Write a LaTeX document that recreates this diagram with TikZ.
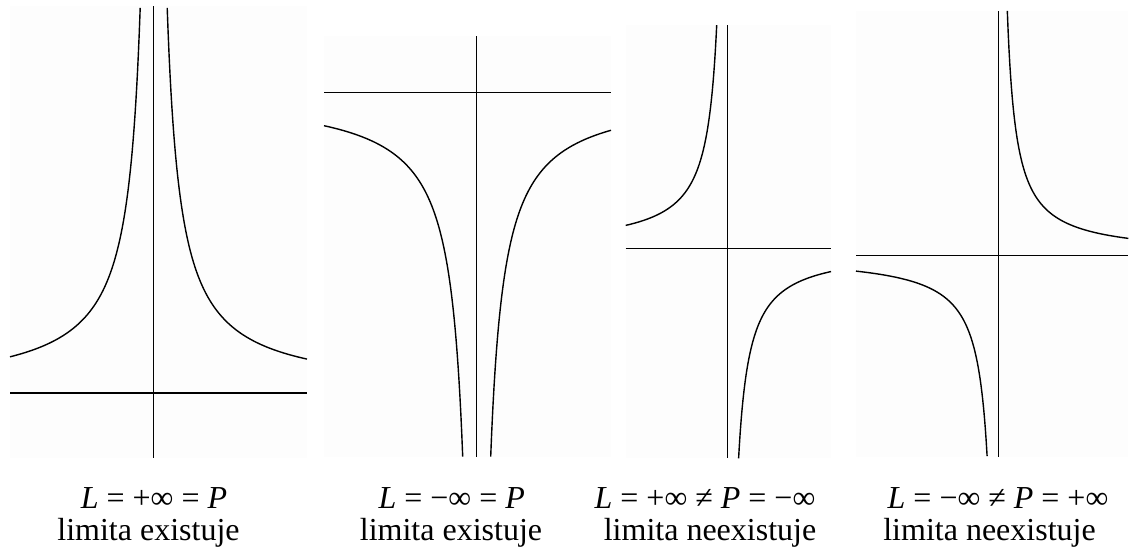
\documentclass[tikz,border=0pt]{standalone}
\usepackage{fontspec}
\setmainfont{Liberation Serif}
\usepackage{tikz}
\definecolor{feldgrau}{RGB}{253,253,253}
\newcommand{\Feld}[6]{%
  \fill[feldgrau] (#1,#2) rectangle (#3,#4);
  \draw[achse] (#1,#6) -- (#3,#6);
  \draw[achse] (#5,#2) -- (#5,#4);}

\begin{document}
\begin{tikzpicture}[x=0.5pt,y=-0.5pt,
  achse/.style={line width=0.75pt},
  kurve/.style={line width=0.7pt,samples=150},
  popis/.style={anchor=base,inner sep=0pt,font=\fontsize{16}{18}\selectfont}]
  \useasboundingbox (0,0) rectangle (1139,552);
  % 1. Bild: beide Seiten nach +oo
  \Feld{10}{6}{307}{458}{153.7}{393}
  \draw[kurve,domain=10:140.2] plot (\x,{393-5200/(153.7-\x)});
  \draw[kurve,domain=167.2:307] plot (\x,{393-5200/(\x-153.7)});
  % 2. Bild: beide Seiten nach -oo
  \Feld{324}{36}{611}{457}{476.7}{92.3}
  \draw[kurve,domain=324:462.7] plot (\x,{92.3+5100/(476.7-\x)});
  \draw[kurve,domain=490.7:611] plot (\x,{92.3+5100/(\x-476.7)});
  % 3. Bild: links +oo, rechts -oo
  \Feld{625.7}{25}{831}{458}{727.3}{248.7}
  \draw[kurve,domain=625.7:716.7] plot (\x,{248.7-2370/(727.3-\x)});
  \draw[kurve,domain=738.6:831] plot (\x,{248.7+2370/(\x-727.3)});
  % 4. Bild: links -oo, rechts +oo
  \Feld{856}{11}{1128.3}{457}{998.3}{255.3}
  \draw[kurve,domain=1007.3:1128.3] plot (\x,{255.3-2200/(\x-998.3)});
  \draw[kurve,domain=856:987.1] plot (\x,{255.3+2250/(998.3-\x)});
  % Beschriftung
  \node[popis] (l1) at (154,508) {\textit{L} = +∞ = \textit{P}};
  \node[popis] (e1) at (148.5,540) {limita existuje};
  \node[popis] (l2) at (451.7,508) {\textit{L} = −∞ = \textit{P}};
  \node[popis] (e2) at (451,540) {limita existuje};
  \node[popis] (l3) at (705,508) {\textit{L} = +∞ ≠ \textit{P} = −∞};
  \node[popis] (e3) at (710,540) {limita neexistuje};
  \node[popis] (l4) at (998,508) {\textit{L} = −∞ ≠ \textit{P} = +∞};
  \node[popis] (e4) at (989.5,540) {limita neexistuje};
\end{tikzpicture}
\end{document}
